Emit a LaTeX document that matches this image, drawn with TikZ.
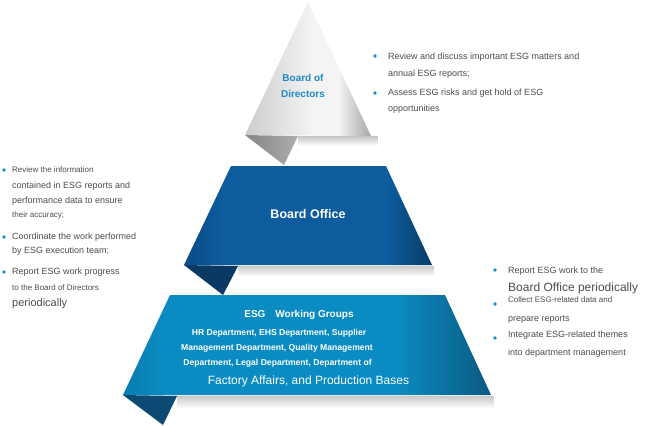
\documentclass[tikz,border=0pt]{standalone}
\usepackage{fontspec}
\setmainfont{Liberation Sans}
\usetikzlibrary{fadings}
\definecolor{txtgray}{HTML}{4D4D4D}
\definecolor{bulletblue}{HTML}{1A8CCC}
\definecolor{bodblue}{HTML}{1E8AC6}
\definecolor{tl}{HTML}{CCCCCC}
\definecolor{tm}{HTML}{F4F4F4}
\definecolor{tr}{HTML}{A6A6A6}
\definecolor{bol}{HTML}{0A4C85}
\definecolor{bom}{HTML}{0D5C9E}
\definecolor{bor}{HTML}{073B67}
\definecolor{wgl}{HTML}{087CB1}
\definecolor{wgm}{HTML}{0A8CC2}
\definecolor{wgr}{HTML}{0A5A82}
\definecolor{triflap}{HTML}{9C9C9C}
\definecolor{boflap}{HTML}{0A3A63}
\definecolor{wgflap}{HTML}{0C4A74}
\pgfdeclarehorizontalshading{triShade}{100bp}{color(0bp)=(tl); color(25bp)=(tl); color(52bp)=(tm); color(62bp)=(tm); color(75bp)=(tr); color(100bp)=(tr)}
\pgfdeclarehorizontalshading{boShade}{100bp}{color(0bp)=(bol); color(25bp)=(bol); color(33bp)=(bom); color(66bp)=(bom); color(75bp)=(bor); color(100bp)=(bor)}
\pgfdeclarehorizontalshading{wgShade}{100bp}{color(0bp)=(wgl); color(25bp)=(wgl); color(31bp)=(wgm); color(62bp)=(wgm); color(75bp)=(wgr); color(100bp)=(wgr)}
\pgfdeclarehorizontalshading{flapTri}{100bp}{color(0bp)=(black!48); color(25bp)=(black!48); color(75bp)=(black!32); color(100bp)=(black!32)}
\tikzset{
  body/.style={font=\fontsize{9}{11}\selectfont, text=txtgray, anchor=base west, inner sep=0pt},
  small/.style={body, font=\fontsize{8}{10}\selectfont},
  large/.style={body, font=\fontsize{11}{13}\selectfont},
  larger/.style={body, font=\fontsize{12}{14}\selectfont},
  bulletdot/.style={circle, fill=bulletblue, inner sep=0pt, minimum size=3.8pt},
  wgline/.style={font=\bfseries\fontsize{8.6}{10}\selectfont, text=white, anchor=base, inner sep=0pt},
  shadowbar/.style={fill=black!22, draw=none, path fading=south},
}
\begin{document}
\begin{tikzpicture}[x=1pt,y=-1pt]
\useasboundingbox (0,0) rectangle (670,426);
\fill[white] (0,0) rectangle (670,426);

% ---- shadows ----
\fill[shadowbar] (298,136) rectangle (378,146);
\fill[shadowbar] (238,265.5) rectangle (434,276);
\fill[shadowbar] (177,395.5) rectangle (494,408);

% ---- top triangle ----
\coordinate (tA) at (308,2);
\coordinate (tL) at (245,135);
\coordinate (tR) at (371,136);
\coordinate (tF) at (284,165);
\coordinate (tG) at (298,136);
\shade[shading=flapTri] (tL) -- (tF) -- (tG) -- cycle;
\shade[shading=triShade] (tA) -- (tR) -- (tL) -- cycle;
\node (bod1) [font=\bfseries\fontsize{10}{12}\selectfont, text=bodblue, anchor=base, inner sep=0pt] at (303,81.5) {Board of};
\node (bod2) [font=\bfseries\fontsize{10}{12}\selectfont, text=bodblue, anchor=base, inner sep=0pt] at (303,97.5) {Directors};

% ---- board office ----
\coordinate (bTL) at (231,166);
\coordinate (bTR) at (386,166);
\coordinate (bBR) at (432,265);
\coordinate (bBL) at (184,265);
\coordinate (bF) at (223,295);
\coordinate (bG) at (238,266);
\fill[boflap] (bBL) -- (bF) -- (bG) -- cycle;
\shade[shading=boShade] (bTL) -- (bTR) -- (bBR) -- (bBL) -- cycle;
\node (bo) [font=\bfseries\fontsize{12.5}{14}\selectfont, text=white, anchor=base, inner sep=0pt] at (308,218.5) {Board Office};

% ---- working groups ----
\coordinate (wTL) at (170,295);
\coordinate (wTR) at (445,295);
\coordinate (wBR) at (491,395);
\coordinate (wBL) at (123,395);
\coordinate (wF) at (163,425);
\coordinate (wG) at (177,396);
\fill[wgflap] (wBL) -- (wF) -- (wG) -- cycle;
\shade[shading=wgShade] (wTL) -- (wTR) -- (wBR) -- (wBL) -- cycle;
\node (wg0) [font=\bfseries\fontsize{10}{12}\selectfont, text=white, anchor=base, inner sep=0pt] at (299,317) {ESG\hspace{1em}Working Groups};
\node (wg1) [wgline] at (279,335) {HR Department, EHS Department, Supplier};
\node (wg2) [wgline] at (277,350) {Management Department, Quality Management};
\node (wg3) [wgline] at (277.5,365) {Department, Legal Department, Department of};
\node (wg4) [font=\fontsize{12}{14}\selectfont, text=white, anchor=base, inner sep=0pt] at (308.5,384) {Factory Affairs, and Production Bases};

% ---- top-right text ----
\node (rb1) [bulletdot] at (375,56) {};
\node (rt1) [body] at (388,59.5) {Review and discuss important ESG matters and};
\node (rt2) [body] at (388,76.5) {annual ESG reports;};
\node (rb2) [bulletdot] at (375,93) {};
\node (rt3) [body] at (388,95.5) {Assess ESG risks and get hold of ESG};
\node (rt4) [body] at (388,111.5) {opportunities};

% ---- left text ----
\node (lb1) [bulletdot] at (4,170) {};
\node (lt1) [small] at (12,172) {Review the information};
\node (lt2) [body] at (12,188) {contained in ESG reports and};
\node (lt3) [body] at (12,203) {performance data to ensure};
\node (lt4) [small] at (12,217) {their accuracy;};
\node (lb2) [bulletdot] at (4,237) {};
\node (lt5) [body] at (12,239) {Coordinate the work performed};
\node (lt6) [body] at (12,253) {by ESG execution team;};
\node (lb3) [bulletdot] at (4,272) {};
\node (lt7) [body] at (12,274) {Report ESG work progress};
\node (lt8) [small] at (12,290) {to the Board of Directors};
\node (lt9) [large] at (12,306) {periodically};

% ---- bottom-right text ----
\node (bb1) [bulletdot] at (495,270) {};
\node (bt1) [body] at (508,273) {Report ESG work to the};
\node (bt2) [larger] at (508,291) {Board Office periodically};
\node (bb2) [bulletdot] at (495,304) {};
\node (bt3) [small] at (508,302) {Collect ESG-related data and};
\node (bt4) [body] at (508,321.5) {prepare reports};
\node (bb3) [bulletdot] at (495,338) {};
\node (bt5) [body] at (508,337) {Integrate ESG-related themes};
\node (bt6) [body] at (508,355) {into department management};
\end{tikzpicture}
\end{document}
